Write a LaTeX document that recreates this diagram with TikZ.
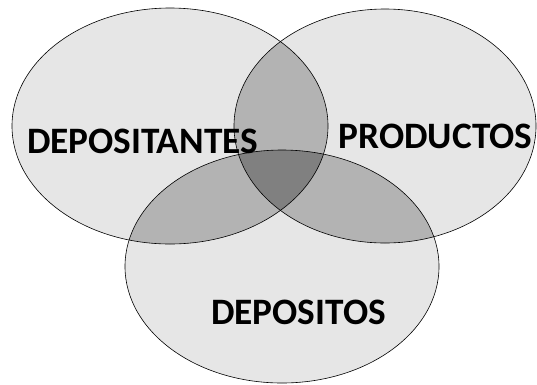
\documentclass[tikz,border=0pt]{standalone}
\usepackage{fontspec}
\setmainfont{Carlito}
\begin{document}
\begin{tikzpicture}[x=1pt,y=-1pt,
  ring/.style={draw=black,line width=0.6pt},
  lbl/.style={font=\bfseries\fontsize{37.3}{42}\selectfont,anchor=base,inner sep=0pt}]
\useasboundingbox (0,0) rectangle (537,384);
\def\ellL{(170,126) ellipse [x radius=158,y radius=118]}
\def\ellR{(385,126) ellipse [x radius=151,y radius=117]}
\def\ellB{(282,266.5) ellipse [x radius=157,y radius=116.5]}
\definecolor{one}{HTML}{E6E6E6}
\definecolor{two}{HTML}{B3B3B3}
\definecolor{three}{HTML}{808080}
\fill[one] \ellL; \fill[one] \ellR; \fill[one] \ellB;
\begin{scope}\clip \ellL; \fill[two] \ellR; \fill[two] \ellB; \end{scope}
\begin{scope}\clip \ellR; \fill[two] \ellB; \end{scope}
\begin{scope}\clip \ellL; \clip \ellR; \fill[three] \ellB; \end{scope}
\draw[ring] \ellL; \draw[ring] \ellR; \draw[ring] \ellB;
\node[lbl] (dep) at (142.5,153) {DEPOSITANTES};
\node[lbl] (pro) at (435.5,148) {PRODUCTOS};
\node[lbl] (dos) at (298.5,324) {DEPOSITOS};
\end{tikzpicture}
\end{document}
